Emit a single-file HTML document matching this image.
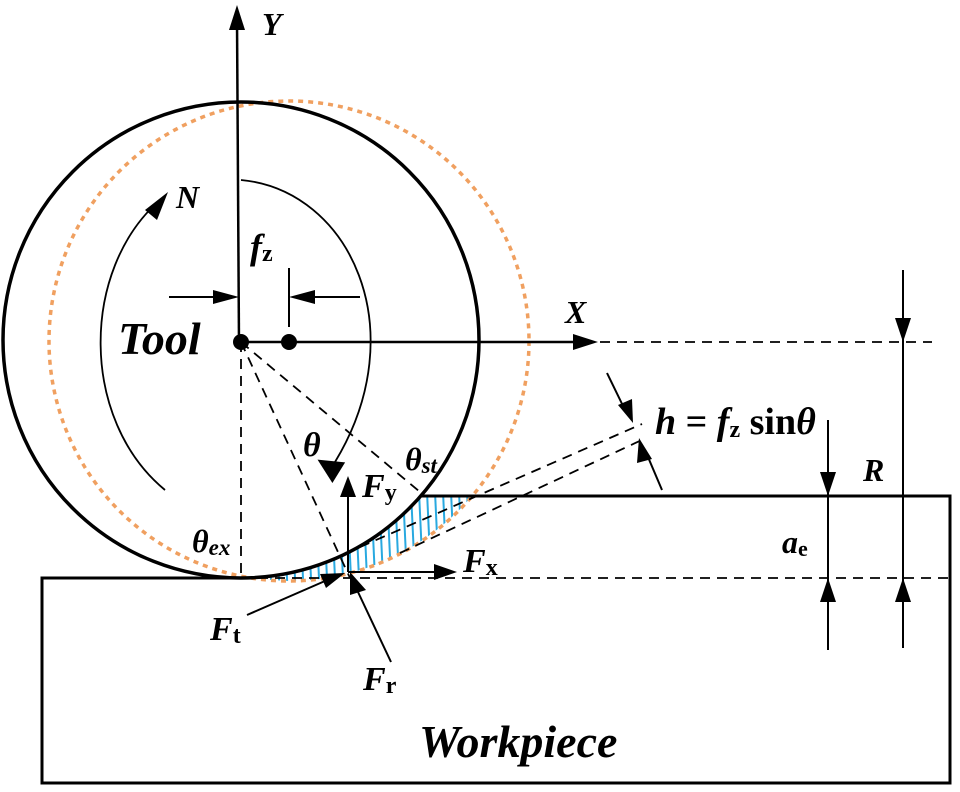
<!DOCTYPE html>
<html><head><meta charset="utf-8"><style>
html,body{margin:0;padding:0;background:#fff;}
svg{display:block;}
text{font-family:"Liberation Serif",serif;font-weight:bold;font-style:italic;fill:#000;}
</style></head><body>
<svg width="960" height="792" viewBox="0 0 960 792" xmlns="http://www.w3.org/2000/svg">
<defs>
<clipPath id="chip"><path d="M241,578 A238,238 0 0 0 421,496 L472,496 A240,240 0 0 1 289,581 Z"/></clipPath>
</defs>
<g clip-path="url(#chip)" stroke="#29a9e0" stroke-width="2">
<line x1="250" y1="470" x2="256" y2="600"/><line x1="258" y1="470" x2="264" y2="600"/><line x1="266" y1="470" x2="272" y2="600"/><line x1="274" y1="470" x2="280" y2="600"/><line x1="282" y1="470" x2="288" y2="600"/><line x1="290" y1="470" x2="296" y2="600"/><line x1="298" y1="470" x2="304" y2="600"/><line x1="306" y1="470" x2="312" y2="600"/><line x1="314" y1="470" x2="320" y2="600"/><line x1="322" y1="470" x2="328" y2="600"/><line x1="330" y1="470" x2="336" y2="600"/><line x1="338" y1="470" x2="344" y2="600"/><line x1="346" y1="470" x2="352" y2="600"/><line x1="354" y1="470" x2="360" y2="600"/><line x1="362" y1="470" x2="368" y2="600"/><line x1="370" y1="470" x2="376" y2="600"/><line x1="378" y1="470" x2="384" y2="600"/><line x1="386" y1="470" x2="392" y2="600"/><line x1="394" y1="470" x2="400" y2="600"/><line x1="402" y1="470" x2="408" y2="600"/><line x1="410" y1="470" x2="416" y2="600"/><line x1="418" y1="470" x2="424" y2="600"/><line x1="426" y1="470" x2="432" y2="600"/><line x1="434" y1="470" x2="440" y2="600"/><line x1="442" y1="470" x2="448" y2="600"/><line x1="450" y1="470" x2="456" y2="600"/><line x1="458" y1="470" x2="464" y2="600"/><line x1="466" y1="470" x2="472" y2="600"/>
</g>
<circle cx="289" cy="341" r="240" fill="none" stroke="#f0a060" stroke-width="3.5" stroke-dasharray="5,5"/>
<circle cx="241" cy="340" r="238" fill="none" stroke="#000" stroke-width="3.5"/>
<path d="M421,496 L950,496 L950,783 L42,783 L42,578 L241,578" fill="none" stroke="#000" stroke-width="3"/>
<g stroke="#000" stroke-width="1.8" fill="none" stroke-dasharray="10,7">
<line x1="241" y1="342" x2="241" y2="578"/>
<line x1="241" y1="342" x2="350" y2="578"/>
<line x1="241" y1="342" x2="420" y2="492"/>
<line x1="241" y1="578" x2="950" y2="578"/>
<line x1="600" y1="342" x2="932" y2="342"/>
<line x1="360" y1="547" x2="642" y2="424"/>
<line x1="400" y1="553" x2="646" y2="438"/>
</g>
<g stroke="#000" stroke-width="2.5" fill="none">
<line x1="239" y1="345" x2="237" y2="20"/>
<line x1="241" y1="342" x2="580" y2="342"/>
</g>
<path d="M229,30 L237,5 L245,30 Z"/>
<path d="M573,334 L598,342 L573,350 Z"/>
<circle cx="241" cy="342" r="8"/>
<circle cx="289" cy="342" r="8"/>
<g stroke="#000" stroke-width="2" fill="none">
<line x1="169" y1="297" x2="215" y2="297"/>
<line x1="312" y1="297" x2="360" y2="297"/>
<line x1="289" y1="268" x2="289" y2="327"/>
</g>
<path d="M213,290 L239,297 L213,304 Z"/>
<path d="M315,290 L289,297 L315,304 Z"/>
<path d="M241,180 C350,190 415,330 335,462" fill="none" stroke="#000" stroke-width="1.8"/>
<path d="M322,455 L347,467 L328,482 Z" transform="rotate(-20 333 470)"/>
<path d="M165,490 C80,420 80,270 160,200" fill="none" stroke="#000" stroke-width="1.8"/>
<path d="M145,210 L168,192 L157,220 Z"/>
<g stroke="#000" stroke-width="2" fill="none">
<line x1="348" y1="572" x2="348" y2="495"/>
<line x1="348" y1="572" x2="440" y2="572"/>
<line x1="247" y1="615" x2="325" y2="581"/>
<line x1="391" y1="662" x2="358" y2="592"/>
</g>
<path d="M340,497 L348,476 L356,497 Z"/>
<path d="M434,564 L457,572 L434,580 Z"/>
<path d="M320,574 L345,573 L326,588 Z"/>
<path d="M350,595 L350,572 L366,590 Z"/>
<g stroke="#000" stroke-width="2" fill="none">
<line x1="607" y1="373" x2="625" y2="410"/>
<line x1="645" y1="450" x2="662" y2="490"/>
</g>
<path d="M618,405 L633,423 L632,399 Z"/>
<path d="M641,439 L654,460 L639,464 Z" transform="translate(-2,-1)"/>
<g stroke="#000" stroke-width="2" fill="none">
<line x1="903" y1="270" x2="903" y2="648"/>
<line x1="828" y1="420" x2="828" y2="650"/>
</g>
<path d="M895,318 L903,342 L911,318 Z"/>
<path d="M895,602 L903,578 L911,602 Z"/>
<path d="M820,472 L828,496 L836,472 Z"/>
<path d="M820,602 L828,578 L836,602 Z"/>
<text x="262" y="35" font-size="32">Y</text>
<text x="565" y="323" font-size="32">X</text>
<text x="176" y="208" font-size="32">N</text>
<text x="118" y="354" font-size="46">Tool</text>
<text x="250" y="259" font-size="36">f<tspan font-size="24" font-style="normal" dy="2">z</tspan></text>
<text x="303" y="456" font-size="34">θ</text>
<text x="405" y="470" font-size="32">θ<tspan font-size="23" dy="3">st</tspan></text>
<text x="192" y="552" font-size="32">θ<tspan font-size="23" dy="3">ex</tspan></text>
<text x="362" y="497" font-size="34">F<tspan font-size="24" font-style="normal" dy="3">y</tspan></text>
<text x="463" y="572" font-size="34">F<tspan font-size="24" font-style="normal" dy="3">x</tspan></text>
<text x="210" y="640" font-size="34">F<tspan font-size="24" font-style="normal" dy="3">t</tspan></text>
<text x="363" y="690" font-size="34">F<tspan font-size="24" font-style="normal" dy="3">r</tspan></text>
<text x="655" y="434" font-size="38">h<tspan font-style="normal"> = </tspan>f<tspan font-size="24" font-style="normal" dy="3">z</tspan><tspan font-style="normal" dy="-3"> sin</tspan>θ</text>
<text x="863" y="481" font-size="32">R</text>
<text x="782" y="553" font-size="32">a<tspan font-size="22" font-style="normal" dy="3">e</tspan></text>
<text x="419" y="757" font-size="46">Workpiece</text>
</svg>
</body></html>
